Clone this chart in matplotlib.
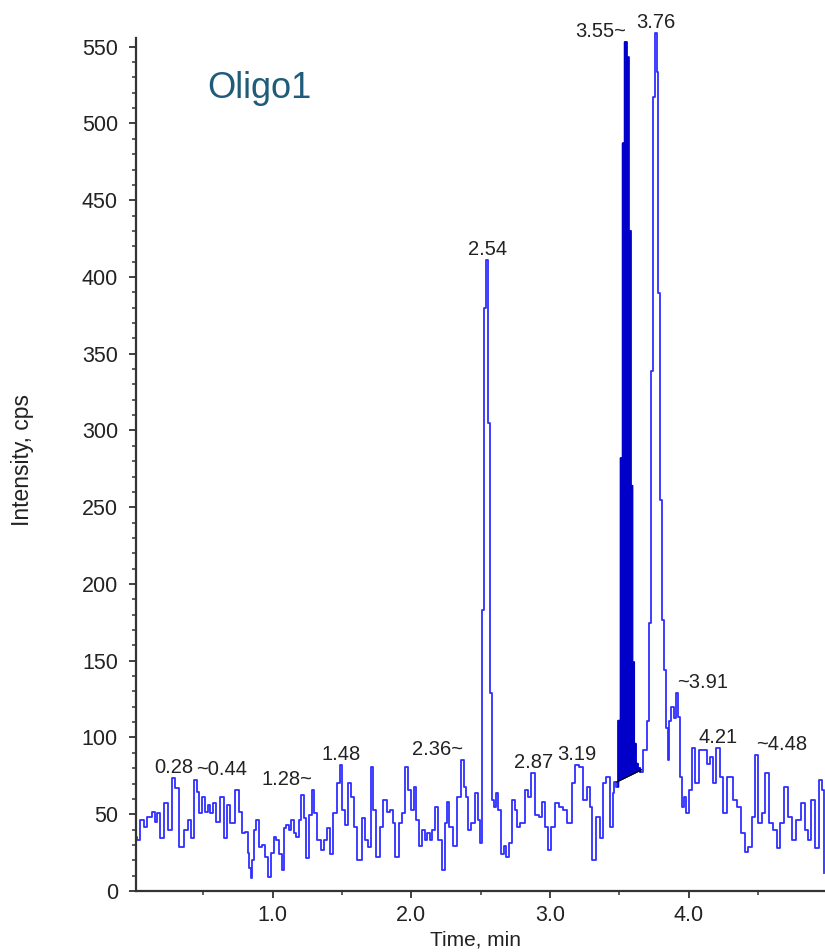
import matplotlib
matplotlib.use("Agg")
import matplotlib.pyplot as plt
from matplotlib.ticker import MultipleLocator, FormatStrFormatter
import numpy as np

plt.rcParams['font.family'] = ['Liberation Sans', 'DejaVu Sans']

# chromatogram trace (time in min, intensity in cps)
times = [0.014, 0.031, 0.062, 0.079, 0.115, 0.139, 0.159, 0.175, 0.204, 0.231,
         0.255, 0.288, 0.303, 0.344, 0.375, 0.399, 0.416, 0.447, 0.464, 0.476,
         0.500, 0.519, 0.543, 0.560, 0.584, 0.601, 0.632, 0.663, 0.680, 0.711,
         0.745, 0.769, 0.788, 0.812, 0.825, 0.838, 0.848, 0.860, 0.872, 0.884,
         0.913, 0.932, 0.955, 0.976, 0.995, 1.017, 1.030, 1.058, 1.069, 1.089,
         1.106, 1.125, 1.139, 1.161, 1.178, 1.197, 1.216, 1.233, 1.252, 1.274,
         1.286, 1.305, 1.336, 1.360, 1.380, 1.401, 1.425, 1.449, 1.473, 1.492,
         1.513, 1.528, 1.557, 1.576, 1.593, 1.624, 1.658, 1.677, 1.696, 1.721,
         1.731, 1.755, 1.786, 1.810, 1.834, 1.858, 1.875, 1.894, 1.923, 1.942,
         1.966, 1.990, 2.009, 2.026, 2.045, 2.067, 2.086, 2.105, 2.122, 2.139,
         2.158, 2.182, 2.206, 2.230, 2.250, 2.266, 2.283, 2.314, 2.346, 2.370,
         2.387, 2.399, 2.423, 2.442, 2.470, 2.490, 2.505, 2.519, 2.533, 2.547,
         2.561, 2.575, 2.589, 2.601, 2.613, 2.632, 2.657, 2.673, 2.692, 2.711,
         2.740, 2.754, 2.771, 2.802, 2.831, 2.850, 2.880, 2.903, 2.932, 2.951,
         2.975, 2.995, 3.024, 3.047, 3.083, 3.107, 3.143, 3.168, 3.191, 3.227,
         3.251, 3.276, 3.293, 3.317, 3.348, 3.372, 3.396, 3.413, 3.444, 3.456,
         3.470, 3.484, 3.500, 3.516, 3.530, 3.545, 3.558, 3.573, 3.588, 3.600,
         3.612, 3.624, 3.640, 3.660, 3.684, 3.708, 3.720, 3.733, 3.746, 3.762,
         3.775, 3.788, 3.799, 3.812, 3.828, 3.841, 3.852, 3.864, 3.884, 3.900,
         3.915, 3.928, 3.940, 3.956, 3.970, 3.989, 4.011, 4.036, 4.056, 4.088,
         4.117, 4.141, 4.165, 4.182, 4.213, 4.230, 4.261, 4.285, 4.309, 4.333,
         4.364, 4.388, 4.417, 4.441, 4.465, 4.485, 4.513, 4.537, 4.562, 4.591,
         4.622, 4.646, 4.670, 4.705, 4.730, 4.754, 4.790, 4.826, 4.850, 4.869,
         4.898, 4.927, 4.951, 4.965, 4.978]
intensity = [35.4, 33.2, 46.3, 41.9, 48.0, 51.7, 45.2, 50.6, 34.3, 57.5,
             39.7, 73.4, 66.9, 28.9, 39.7, 46.3, 34.3, 72.3, 64.7, 50.6,
             61.4, 51.7, 56.0, 50.6, 57.1, 45.2, 61.4, 34.3, 56.0, 44.1,
             65.8, 51.7, 37.6, 38.6, 25.0, 15.0, 8.2, 20.0, 40.0, 46.3,
             28.9, 30.0, 22.0, 9.3, 25.0, 35.4, 33.2, 24.4, 13.5, 40.8,
             43.0, 39.7, 46.3, 37.6, 35.4, 46.3, 62.5, 47.4, 21.3, 49.5,
             65.8, 50.6, 33.0, 26.6, 33.0, 40.8, 24.4, 50.6, 70.1, 82.0,
             52.8, 43.0, 70.1, 61.4, 41.9, 20.2, 47.4, 33.0, 28.9, 81.0,
             52.8, 22.4, 41.9, 59.3, 51.7, 52.8, 44.1, 22.4, 44.1, 50.6,
             81.0, 65.8, 52.8, 68.0, 46.0, 29.0, 39.7, 33.0, 37.6, 33.0,
             39.7, 55.0, 33.0, 13.5, 44.0, 58.2, 42.0, 29.0, 61.4, 85.3,
             68.0, 61.4, 39.7, 44.0, 63.6, 46.0, 31.0, 183.0, 380.0, 411.0,
             305.0, 129.0, 59.3, 55.0, 63.6, 52.8, 24.4, 29.0, 22.4, 31.0,
             59.3, 52.8, 42.0, 44.0, 65.8, 61.4, 76.6, 49.5, 48.5, 58.2,
             42.0, 26.6, 42.0, 57.1, 55.0, 52.8, 44.1, 70.1, 82.1, 81.0,
             59.3, 68.0, 55.0, 20.2, 48.5, 34.3, 70.1, 74.4, 41.9, 63.6,
             71.2, 68.0, 111.0, 282.0, 487.0, 553.0, 543.0, 430.0, 264.0, 149.0,
             96.0, 83.0, 80.0, 77.7, 91.9, 111.0, 174.6, 339.0, 517.5, 559.0,
             533.8, 389.6, 254.7, 176.5, 144.0, 106.0, 85.3, 111.0, 120.0, 113.0,
             129.0, 113.6, 74.4, 55.0, 61.4, 50.6, 65.8, 92.9, 70.1, 91.8,
             91.8, 83.0, 87.3, 70.1, 92.9, 74.4, 50.6, 74.4, 74.4, 59.3,
             55.0, 37.6, 25.6, 28.9, 48.5, 88.4, 44.1, 50.6, 76.6, 44.1,
             39.7, 27.9, 44.1, 68.0, 48.5, 33.2, 46.3, 57.1, 39.7, 33.2,
             59.3, 27.9, 72.3, 65.8, 11.5]

# integration baseline under the 3.55 peak
base_t = [3.480, 3.660]
base_v = [71.0, 79.0]

# peak labels
peak_labels = ['0.28', '~0.44', '1.28~', '1.48', '2.36~', '2.54', '2.87', '3.19',
               '3.55~', '3.76', '~3.91', '4.21', '~4.48']
peak_t = [0.288, 0.447, 1.286, 1.492, 2.370, 2.547, 2.880, 3.191,
          3.545, 3.762, 3.915, 4.213, 4.485]
peak_v = [73.4, 72.3, 65.8, 82.0, 85.3, 411.0, 76.6, 82.1,
          553.0, 559.0, 129.0, 92.9, 88.4]
peak_side = ['center', 'left', 'right', 'center', 'right', 'center', 'center', 'center',
             'right', 'center', 'left', 'center', 'left']

t = np.array(times)
y = np.array(intensity)

fig = plt.figure(figsize=(8.25, 9.52), dpi=100)
ax = fig.add_axes([136 / 825, 1 - 891 / 952, 689 / 825, 853 / 952])

ax.plot(t, y, color='#2E2EFF', lw=1.3, drawstyle='steps-mid', clip_on=False)

# step outline of the trace, used for the filled (integrated) peak
mids = (t[:-1] + t[1:]) / 2
left_edge = np.concatenate([[t[0]], mids])
right_edge = np.concatenate([mids, [t[-1]]])
xs = np.column_stack([left_edge, right_edge]).ravel()
ys = np.repeat(y, 2)
sel = (xs >= base_t[0]) & (xs <= base_t[1])
fx = xs[sel]
fy = ys[sel]
ax.fill_between(fx, fy, np.interp(fx, base_t, base_v), color='#0000C8',
                lw=0, snap=False, antialiased=False, zorder=3)
ax.plot(fx, fy, color='#0000C8', lw=1.3, zorder=3.5, snap=False)
ax.plot(base_t, base_v, color='black', lw=0.9, zorder=4)

for lab, pt, pv, side in zip(peak_labels, peak_t, peak_v, peak_side):
    ax.annotate(lab, (pt, pv), xytext=(0, 1), textcoords='offset points',
                ha=side, va='bottom', fontsize=14.5, color='#222222',
                annotation_clip=False)

ax.text(0.103, 0.941, 'Oligo1', transform=ax.transAxes, fontsize=26,
        color='#1F5C7A', va='center', ha='left')

ax.set_xlim(0.0144, 4.982)
ax.set_ylim(0, 555.7)
ax.xaxis.set_major_locator(MultipleLocator(1.0))
ax.xaxis.set_minor_locator(MultipleLocator(0.5))
ax.xaxis.set_major_formatter(FormatStrFormatter('%.1f'))
ax.yaxis.set_major_locator(MultipleLocator(50))
ax.yaxis.set_minor_locator(MultipleLocator(10))

for s in ['top', 'right']:
    ax.spines[s].set_visible(False)
for s in ['left', 'bottom']:
    ax.spines[s].set_color('#333333')
    ax.spines[s].set_linewidth(1.6)

ax.tick_params(which='major', direction='out', length=5, width=1.3,
               colors='#333333', labelsize=15.5, labelcolor='#222222', pad=5)
ax.tick_params(axis='y', which='major', pad=8)
ax.tick_params(which='minor', direction='out', length=3, width=1.1, colors='#333333')

fig.text(22 / 825, 1 - 460 / 952, 'Intensity, cps', rotation=90,
         ha='center', va='center', fontsize=16.5, color='#222222')
fig.text(475 / 825, 1 - 940 / 952, 'Time, min', ha='center', va='center',
         fontsize=15, color='#222222')

fig.savefig('out.png', dpi=100)
